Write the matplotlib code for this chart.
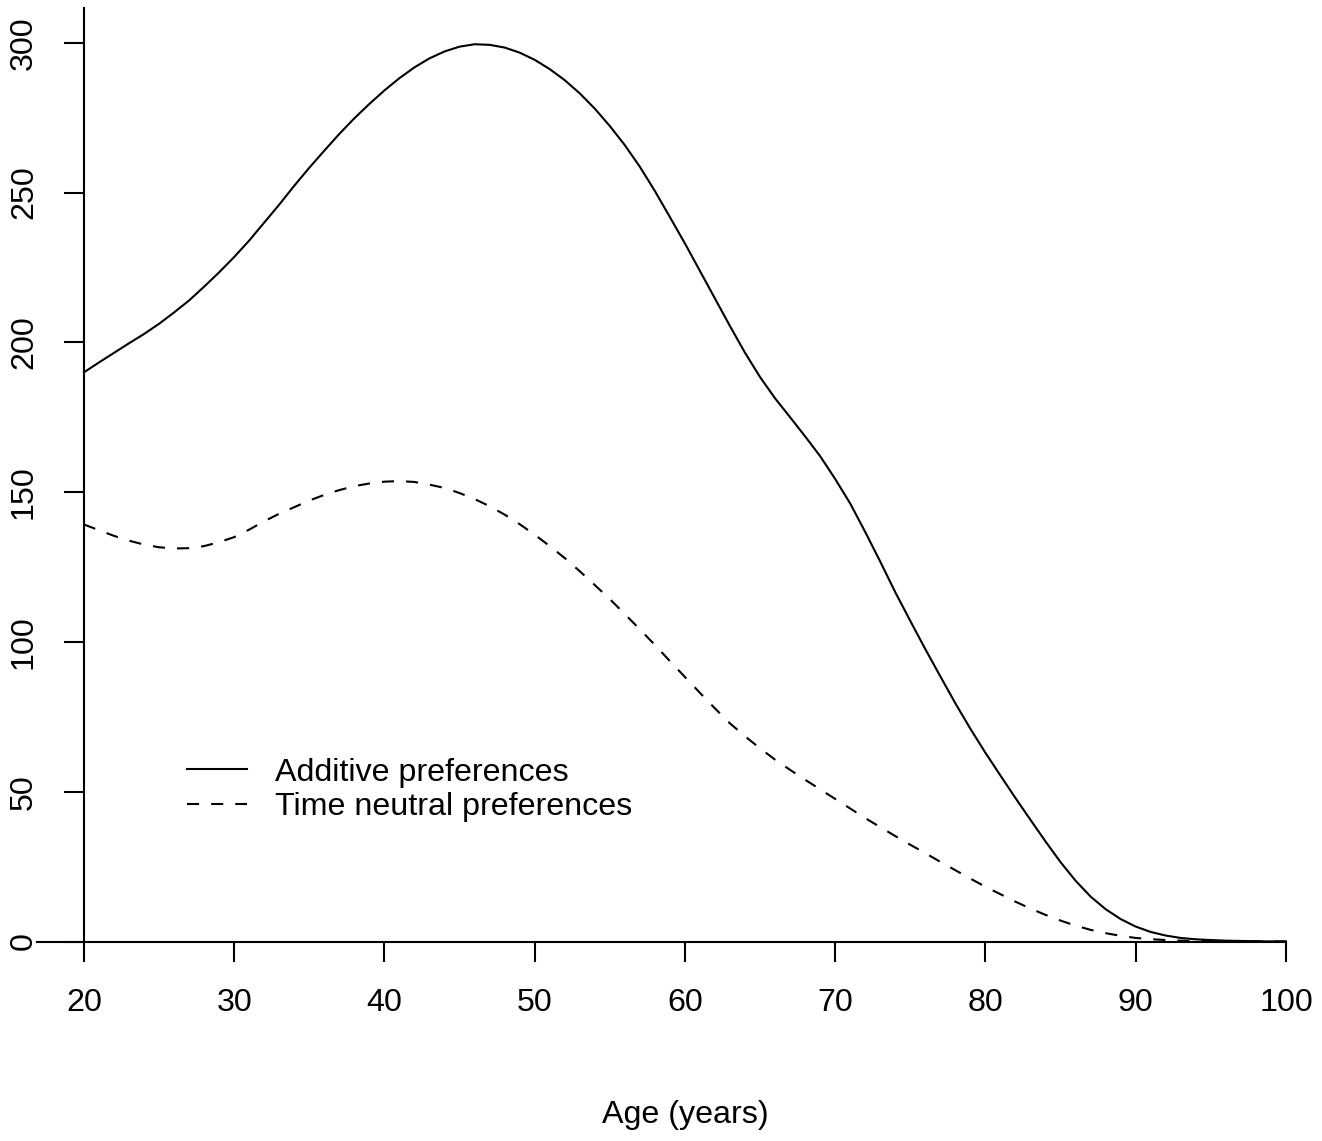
import matplotlib
matplotlib.use("Agg")
import matplotlib.pyplot as plt

plt.rcParams['font.family'] = ['Liberation Sans', 'DejaVu Sans']

age = list(range(20, 101))

additive = [190, 193.3, 196.5, 199.7, 202.8, 206.2, 210, 214, 218.6, 223.4,
            228.5, 234, 240, 246, 252.3, 258.3, 264, 269.6, 274.8, 279.6,
            284.1, 288.2, 291.8, 294.8, 297.1, 298.7, 299.5, 299.3, 298.4,
            296.7, 294.3, 291.2, 287.5, 283.1, 278, 272.2, 265.8, 258.6,
            250.5, 241.8, 233, 223.8, 214.6, 205.4, 196.5, 188.4, 181.3, 175,
            168.6, 162, 154.4, 146.2, 136.7, 126.8, 116.6, 107, 97.6, 88.5,
            79.5, 71, 63, 55.4, 47.9, 40.6, 33.4, 26.5, 20.3, 15, 10.8, 7.5,
            5, 3.2, 2, 1.2, 0.75, 0.5, 0.3, 0.2, 0.1, 0.05, 0.02]

time_neutral = [139.2, 137.3, 135.4, 133.8, 132.5, 131.6, 131.2, 131.3, 132,
                133.3, 135, 137.5, 140.3, 142.8, 145, 147.2, 149.1, 150.7,
                152, 152.9, 153.5, 153.7, 153.4, 152.5, 151.4, 149.7, 147.7,
                145.3, 142.5, 139.3, 135.8, 132, 128, 123.6, 119, 114.3,
                109.3, 104.2, 99, 93.6, 88.3, 83, 77.8, 72.8, 68.5, 64.5,
                60.7, 57.3, 54, 50.8, 47.6, 44.4, 41.2, 38.2, 35.2, 32.3,
                29.5, 26.6, 23.8, 21, 18.3, 15.8, 13.3, 11, 8.9, 7, 5.3, 3.9,
                2.8, 1.9, 1.2, 0.8, 0.5, 0.3, 0.2, 0.12, 0.08, 0.05, 0.03,
                0.02, 0.01]

series_labels = ["Additive preferences", "Time neutral preferences"]
x_ticks = [20, 30, 40, 50, 60, 70, 80, 90, 100]
y_ticks = [0, 50, 100, 150, 200, 250, 300]
x_label = "Age (years)"

W, H = 1322, 1141
FS = 23.2
fig = plt.figure(figsize=(W / 100, H / 100), dpi=100)
left_px, right_px, top_px, bottom_px = 35.9, 1334.0, 8.0, 977.5
ax = fig.add_axes([left_px / W, 1 - bottom_px / H,
                   (right_px - left_px) / W, (bottom_px - top_px) / H])
ax.set_xlim(16.8, 103.2)
ax.set_ylim(-12, 311.6)
ax.patch.set_visible(False)

lw = 1.5
ax.plot(age, additive, color='black', lw=lw, solid_joinstyle='round',
        label=series_labels[0])
ax.plot(age, time_neutral, color='black', lw=lw, linestyle=(0, (5.8, 5.8)),
        label=series_labels[1])

for s in ['top', 'right']:
    ax.spines[s].set_visible(False)
ax.spines['left'].set_position(('data', 20))
ax.spines['left'].set_bounds(0, 311.6)
ax.spines['bottom'].set_position(('data', 0))
ax.spines['bottom'].set_bounds(16.87, 100)
for s in ['left', 'bottom']:
    ax.spines[s].set_linewidth(lw)

ax.set_xticks(x_ticks)
ax.set_yticks(y_ticks)
ax.tick_params(axis='both', direction='out', length=14.4, width=lw,
               labelsize=FS)
ax.tick_params(axis='x', pad=19)
ax.tick_params(axis='y', pad=18, labelrotation=90)
for lab in ax.get_yticklabels():
    lab.set_verticalalignment('center')

ax.set_xlabel(x_label, fontsize=FS)
ax.xaxis.set_label_coords(0.5, (bottom_px - 1100) / (bottom_px - top_px))

leg = ax.legend(loc='upper left', frameon=False, fontsize=FS,
                handlelength=1.87, handletextpad=0.87, labelspacing=0.15,
                borderpad=0, borderaxespad=0,
                bbox_to_anchor=((187 - left_px) / (right_px - left_px),
                                (bottom_px - 757.5) / (bottom_px - top_px)))

fig.savefig("out.png", dpi=100)
